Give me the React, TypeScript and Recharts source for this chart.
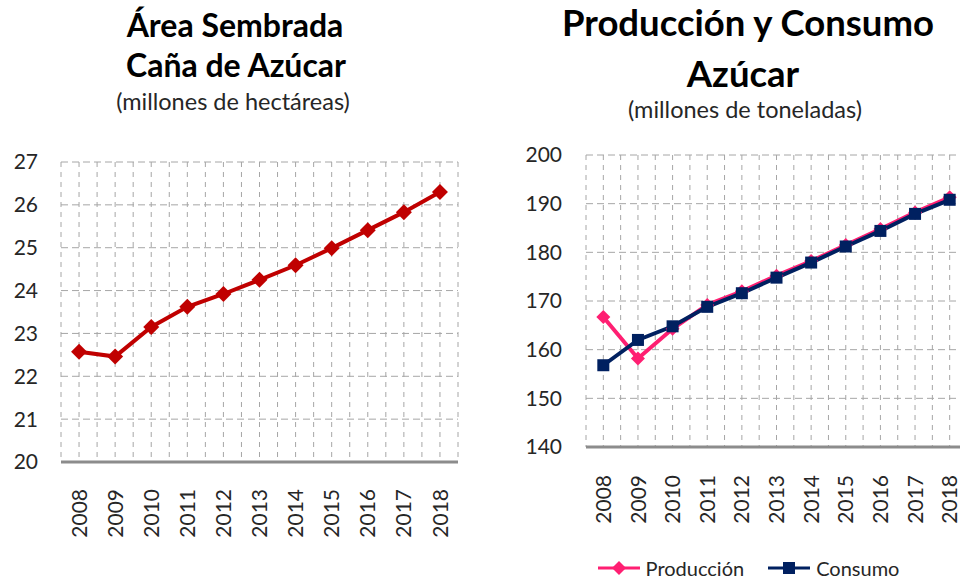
import { CartesianGrid, Legend, Line, LineChart, XAxis, YAxis } from "recharts";

const YEARS = [2008, 2009, 2010, 2011, 2012, 2013, 2014, 2015, 2016, 2017, 2018];
const AREA = [22.57, 22.46, 23.15, 23.62, 23.92, 24.25, 24.59, 24.99, 25.41, 25.83, 26.3];
const PRODUCCION = [166.7, 158.2, 164.3, 169.2, 172.0, 175.2, 178.2, 181.5, 184.8, 188.2, 191.3];
const CONSUMO = [156.8, 162.0, 164.8, 168.8, 171.6, 174.8, 177.9, 181.2, 184.4, 187.9, 190.8];
const AREA_TICKS = [20, 21, 22, 23, 24, 25, 26, 27];
const AZUCAR_TICKS = [140, 150, 160, 170, 180, 190, 200];
const LEGEND_ORDER = ["produccion", "consumo"];

const FONT = "Lato, 'Open Sans', sans-serif";
const TEXT = "#262626";
const GRID = "#a6a6a6";

// category boundaries + centers, Excel-style minor grid
const X_DOMAIN = [YEARS[0] - 0.5, YEARS[YEARS.length - 1] + 0.5];
const GRID_TICKS = YEARS.flatMap((y) => [y - 0.5, y]).concat(YEARS[YEARS.length - 1] + 0.5);

const areaData = YEARS.map((year, i) => ({ year, area: AREA[i] }));
const azucarData = YEARS.map((year, i) => ({
  year,
  produccion: PRODUCCION[i],
  consumo: CONSUMO[i],
}));

function Diamond({ cx, cy, fill, r }: any) {
  if (cx == null || cy == null) return null;
  return (
    <polygon
      points={`${cx},${cy - r} ${cx + r},${cy} ${cx},${cy + r} ${cx - r},${cy}`}
      fill={fill}
    />
  );
}

function Square({ cx, cy, fill, r }: any) {
  if (cx == null || cy == null) return null;
  return <rect x={cx - r} y={cy - r} width={r * 2} height={r * 2} fill={fill} />;
}

function YearTick({ x, y, payload }: any) {
  return (
    <g transform={`translate(${x},${y})`}>
      <text
        transform="rotate(-90)"
        textAnchor="end"
        dy="0.36em"
        fontFamily={FONT}
        fontSize={21}
        fill={TEXT}
      >
        {payload.value}
      </text>
    </g>
  );
}

function LegendContent({ payload }: any) {
  const items = [...(payload || [])].sort(
    (a: any, b: any) => LEGEND_ORDER.indexOf(a.dataKey) - LEGEND_ORDER.indexOf(b.dataKey)
  );
  return (
    <div style={{ display: "flex", justifyContent: "center", gap: 24, height: 26, alignItems: "center", paddingLeft: 30 }}>
      {items.map((entry: any) => (
        <div key={entry.value} style={{ display: "flex", alignItems: "center", gap: 6 }}>
          <svg width={42} height={16}>
            <line x1={0} y1={8} x2={42} y2={8} stroke={entry.color} strokeWidth={3} />
            {entry.dataKey === "produccion" ? (
              <polygon points="21,1 28,8 21,15 14,8" fill={entry.color} />
            ) : (
              <rect x={15} y={2} width={12} height={12} fill={entry.color} />
            )}
          </svg>
          <span style={{ fontFamily: FONT, fontSize: 20, color: TEXT }}>{entry.value}</span>
        </div>
      ))}
    </div>
  );
}

export default function App() {
  return (
    <div
      style={{
        position: "fixed",
        left: 0,
        top: 0,
        width: 960,
        height: 581,
        overflow: "hidden",
        background: "#fff",
      }}
    >
      <svg width={960} height={130} style={{ position: "absolute", left: 0, top: 0 }}>
        <g fontFamily={FONT} textAnchor="middle">
          <text x={235} y={37} fontSize={32} fontWeight={700} fill="#000">Área Sembrada</text>
          <text x={236} y={77} fontSize={32} fontWeight={700} fill="#000">Caña de Azúcar</text>
          <text x={233} y={110} fontSize={23.5} fill={TEXT}>(millones de hectáreas)</text>
          <text x={748} y={36} fontSize={36.5} fontWeight={700} fill="#000">Producción y Consumo</text>
          <text x={743} y={87} fontSize={36.5} fontWeight={700} fill="#000">Azúcar</text>
          <text x={745} y={118} fontSize={23.5} fill={TEXT}>(millones de toneladas)</text>
        </g>
      </svg>

      <div style={{ position: "absolute", left: 0, top: 0 }}>
        <LineChart
          width={480}
          height={581}
          data={areaData}
          margin={{ top: 162, right: 22, bottom: 11, left: 0 }}
        >
          <CartesianGrid vertical={false} stroke={GRID} strokeDasharray="7 4" />
          <CartesianGrid horizontal={false} stroke={GRID} strokeDasharray="5 5" verticalValues={GRID_TICKS} />
          <XAxis
            dataKey="year"
            type="number"
            domain={X_DOMAIN}
            ticks={YEARS}
            allowDataOverflow
            height={108}
            tickLine={false}
            tickSize={0}
            tickMargin={27}
            axisLine={{ stroke: "#8c8c8c", strokeWidth: 3 }}
            tick={<YearTick />}
            interval={0}
          />
          <YAxis
            domain={[20, 27]}
            ticks={AREA_TICKS}
            width={61}
            axisLine={false}
            tickLine={false}
            tickSize={0}
            tickMargin={23}
            tick={{ fontFamily: FONT, fontSize: 21, fill: TEXT }}
            allowDataOverflow
          />
          <Line
            type="linear"
            dataKey="area"
            stroke="#c00000"
            strokeWidth={4}
            dot={<Diamond r={8} fill="#c00000" />}
            activeDot={false}
            isAnimationActive={false}
          />
        </LineChart>
      </div>

      <div style={{ position: "absolute", left: 500, top: 0 }}>
        <LineChart
          width={480}
          height={581}
          data={azucarData}
          margin={{ top: 155, right: 13, bottom: 0, left: 0 }}
        >
          <CartesianGrid vertical={false} stroke={GRID} strokeDasharray="7 4" />
          <CartesianGrid horizontal={false} stroke={GRID} strokeDasharray="5 5" verticalValues={GRID_TICKS} />
          <XAxis
            dataKey="year"
            type="number"
            domain={X_DOMAIN}
            ticks={YEARS}
            allowDataOverflow
            height={108}
            tickLine={false}
            tickSize={0}
            tickMargin={28}
            axisLine={{ stroke: "#8c8c8c", strokeWidth: 3 }}
            tick={<YearTick />}
            interval={0}
          />
          <YAxis
            domain={[140, 200]}
            ticks={AZUCAR_TICKS}
            width={86}
            axisLine={false}
            tickLine={false}
            tickSize={0}
            tickMargin={24}
            tick={{ fontFamily: FONT, fontSize: 21, fill: TEXT }}
            allowDataOverflow
          />
          <Legend verticalAlign="bottom" content={<LegendContent />} />
          <Line
            type="linear"
            dataKey="produccion"
            name="Producción"
            stroke="#ff1f72"
            strokeWidth={4}
            dot={<Diamond r={7} fill="#ff1f72" />}
            activeDot={false}
            isAnimationActive={false}
          />
          <Line
            type="linear"
            dataKey="consumo"
            name="Consumo"
            stroke="#002060"
            strokeWidth={4}
            dot={<Square r={6} fill="#002060" />}
            activeDot={false}
            isAnimationActive={false}
          />
        </LineChart>
      </div>
    </div>
  );
}
